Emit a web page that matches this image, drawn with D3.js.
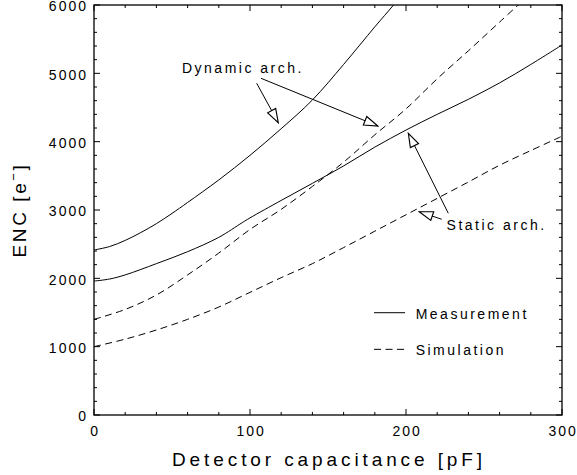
<!DOCTYPE html>
<html>
<head>
<meta charset="utf-8">
<script src="https://cdn.jsdelivr.net/npm/d3@7"></script>
<style>
  body { margin: 0; background: #fff; }
  svg text { font-family: "Liberation Sans", "DejaVu Sans", sans-serif; fill: #000; }
</style>
</head>
<body>
<svg id="chart" width="577" height="475"></svg>
<script>
// detector capacitance [pF] and ENC [e-]
const capDynMeas = [0, 10, 20, 30, 40, 50, 60, 80, 100, 120, 140, 160, 180, 192, 200];
const encDynMeas = [2415, 2465, 2555, 2670, 2800, 2950, 3110, 3440, 3800, 4190, 4610, 5130, 5680, 6000, 6230];

const capStatMeas = [0, 10, 20, 40, 60, 80, 95, 100, 120, 140, 160, 180, 200, 220, 240, 260, 280, 300];
const encStatMeas = [1960, 1990, 2050, 2215, 2390, 2600, 2815, 2885, 3140, 3390, 3645, 3920, 4170, 4400, 4620, 4860, 5130, 5415];

const capDynSim = [0, 20, 40, 60, 80, 100, 120, 140, 160, 180, 200, 220, 240, 260, 280];
const encDynSim = [1400, 1545, 1756, 2050, 2370, 2715, 3010, 3345, 3700, 4100, 4480, 4920, 5330, 5750, 6170];

const capStatSim = [0, 20, 40, 60, 80, 100, 120, 140, 160, 180, 200, 220, 240, 260, 280, 300];
const encStatSim = [1000, 1110, 1244, 1400, 1580, 1795, 2010, 2215, 2450, 2690, 2930, 3170, 3410, 3655, 3870, 4080];

const xTicks = [0, 100, 200, 300];
const yTicks = [0, 1000, 2000, 3000, 4000, 5000, 6000];
const legendLabels = ["Measurement", "Simulation"];

const margin = {left: 94, right: 15, top: 5, bottom: 60};
const width = 577, height = 475;

const svg = d3.select("#chart");

const x = d3.scaleLinear().domain([0, 300]).range([margin.left, width - margin.right]);
const y = d3.scaleLinear().domain([0, 6000]).range([height - margin.bottom, margin.top]);

svg.append("defs").append("clipPath").attr("id", "plotClip")
    .append("rect")
    .attr("x", x(0)).attr("y", y(6000))
    .attr("width", x(300) - x(0)).attr("height", y(0) - y(6000));

svg.select("defs").append("marker")
    .attr("id", "head")
    .attr("markerUnits", "userSpaceOnUse")
    .attr("markerWidth", 16).attr("markerHeight", 16)
    .attr("viewBox", "-13 -6 14 12")
    .attr("refX", 0).attr("refY", 0)
    .attr("orient", "auto")
    .append("path")
    .attr("d", "M0,0 L-12,-4 L-12,4 Z")
    .attr("fill", "#fff").attr("stroke", "#000").attr("stroke-width", 1);

// ticks on all four sides, pointing inwards
const minorX = d3.range(0, 301, 20);
const minorY = d3.range(0, 6001, 200);

const ticks = svg.append("g").attr("stroke", "#000").attr("stroke-width", 1);
minorX.forEach(v => {
    const len = v % 100 === 0 ? 6 : 3;
    ticks.append("line").attr("x1", x(v)).attr("x2", x(v)).attr("y1", y(0)).attr("y2", y(0) - len);
    ticks.append("line").attr("x1", x(v)).attr("x2", x(v)).attr("y1", y(6000)).attr("y2", y(6000) + len);
});
minorY.forEach(v => {
    const len = v % 1000 === 0 ? 6 : 3;
    ticks.append("line").attr("x1", x(0)).attr("x2", x(0) + len).attr("y1", y(v)).attr("y2", y(v));
    ticks.append("line").attr("x1", x(300)).attr("x2", x(300) - len).attr("y1", y(v)).attr("y2", y(v));
});

svg.append("rect")
    .attr("x", x(0)).attr("y", y(6000))
    .attr("width", x(300) - x(0)).attr("height", y(0) - y(6000))
    .attr("fill", "none").attr("stroke", "#000").attr("stroke-width", 1.3);

// tick labels
svg.append("g").selectAll("text").data(xTicks).enter().append("text")
    .attr("x", d => x(d) + 1.2)
    .attr("y", 436)
    .attr("text-anchor", "middle")
    .attr("font-size", 14)
    .attr("letter-spacing", 2)
    .text(d => d);

svg.append("g").selectAll("text").data(yTicks).enter().append("text")
    .attr("x", x(0) - 6)
    .attr("y", d => y(d) + 6.3)
    .attr("text-anchor", "end")
    .attr("font-size", 14)
    .attr("letter-spacing", 2)
    .text(d => d);

// axis titles
svg.append("text")
    .attr("x", (x(0) + x(300)) / 2 + 1)
    .attr("y", 466)
    .attr("text-anchor", "middle")
    .attr("font-size", 19)
    .attr("letter-spacing", 3.9)
    .text("Detector capacitance [pF]");

const yTitle = svg.append("text")
    .attr("transform", "translate(26," + ((y(0) + y(6000)) / 2) + ") rotate(-90)")
    .attr("text-anchor", "middle")
    .attr("font-size", 19)
    .attr("letter-spacing", 2.6);
yTitle.append("tspan").text("ENC [e");
yTitle.append("tspan").attr("dy", -8).attr("font-size", 13).text("\u2212");
yTitle.append("tspan").attr("dy", 8).text("]");

// curves
const line = d3.line().x(d => x(d[0])).y(d => y(d[1])).curve(d3.curveCatmullRom.alpha(0.5));
const curves = [
    {cap: capDynMeas, enc: encDynMeas, dash: null},
    {cap: capStatMeas, enc: encStatMeas, dash: null},
    {cap: capDynSim, enc: encDynSim, dash: "7,4.5"},
    {cap: capStatSim, enc: encStatSim, dash: "7,4.5"}
];
const plot = svg.append("g").attr("clip-path", "url(#plotClip)");
curves.forEach(c => {
    plot.append("path")
        .datum(d3.zip(c.cap, c.enc))
        .attr("d", line)
        .attr("fill", "none")
        .attr("stroke", "#000")
        .attr("stroke-width", 1)
        .attr("stroke-dasharray", c.dash);
});

// annotations (in data units)
const notes = [
    {text: "Dynamic arch.", at: [56.4, 5005]},
    {text: "Static arch.", at: [226, 2707]}
];
const arrows = [
    [[104.3, 4854], [118.1, 4278]],
    [[107, 4928], [181.9, 4230]],
    [[227.1, 2952], [201.5, 4123]],
    [[222.9, 2864], [208.5, 2975]]
];

svg.append("g").selectAll("text").data(notes).enter().append("text")
    .attr("x", d => x(d.at[0]))
    .attr("y", d => y(d.at[1]))
    .attr("font-size", 14)
    .attr("letter-spacing", 2.5)
    .text(d => d.text);

svg.append("g").selectAll("line").data(arrows).enter().append("line")
    .attr("x1", d => x(d[0][0])).attr("y1", d => y(d[0][1]))
    .attr("x2", d => x(d[1][0])).attr("y2", d => y(d[1][1]))
    .attr("stroke", "#000").attr("stroke-width", 1)
    .attr("marker-end", "url(#head)");

// legend
const legend = svg.append("g");
legendLabels.forEach((lab, i) => {
    const ly = i === 0 ? 1497 : 961;
    const ty = i === 0 ? 1400 : 878;
    legend.append("line")
        .attr("x1", x(179.5)).attr("x2", x(199.4))
        .attr("y1", y(ly)).attr("y2", y(ly))
        .attr("stroke", "#000").attr("stroke-width", 1)
        .attr("stroke-dasharray", i === 0 ? null : "7,4.5");
    legend.append("text")
        .attr("x", x(206.2)).attr("y", y(ty))
        .attr("font-size", 14)
        .attr("letter-spacing", 2.5)
        .text(lab);
});
</script>
</body>
</html>
